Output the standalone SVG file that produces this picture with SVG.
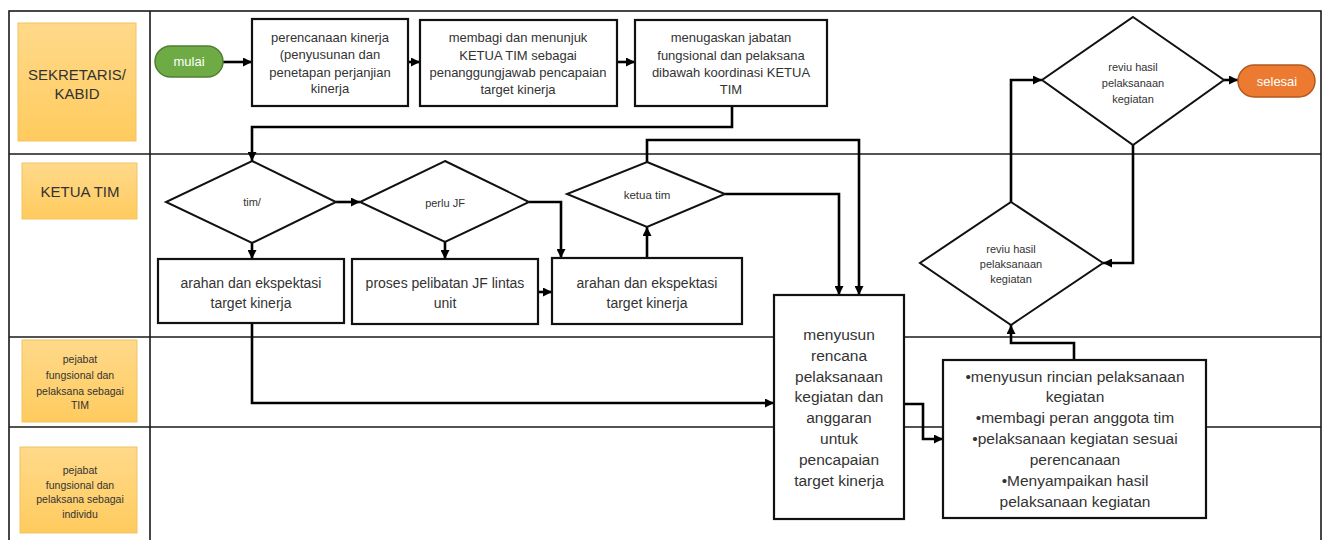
<svg xmlns="http://www.w3.org/2000/svg" width="1324" height="540" viewBox="0 0 1324 540">
<defs>
<linearGradient id="lane" x1="0" y1="0" x2="0" y2="1">
<stop offset="0" stop-color="#FFD98A"/>
<stop offset="1" stop-color="#FFCB5E"/>
</linearGradient>
<marker id="ah" viewBox="0 0 10 10" refX="10" refY="5" markerWidth="9" markerHeight="9" markerUnits="userSpaceOnUse" orient="auto">
<path d="M0,0 L10,5 L0,10 z" fill="#000"/>
</marker>
<style>
.frame{fill:none;stroke:#1a1a1a;stroke-width:1.6}
.lbl{fill:url(#lane);stroke:#F2C363;stroke-width:1}
.box{fill:#fff;stroke:#111;stroke-width:2.2}
.dia{fill:#fff;stroke:#111;stroke-width:2}
.con{fill:none;stroke:#000;stroke-width:2.6}
.ca{fill:none;stroke:#000;stroke-width:2.6;marker-end:url(#ah)}
text{font-family:"Liberation Sans","Open Sans",Arial,sans-serif;fill:#333;text-anchor:middle}
.t12{font-size:13px}
.t13{font-size:14px}
.t14{font-size:15.5px}
.t10{font-size:11px}
.t11{font-size:11.5px}
.lt{font-size:15px}
.ls{font-size:10.5px}
.wt{fill:#fff;font-size:13px}
</style>
</defs>

<g id="lanes">
<rect class="frame" x="9" y="11" width="1312" height="535"/>
<line class="frame" x1="150" y1="11" x2="150" y2="540"/>
<line class="frame" x1="9" y1="154" x2="1321" y2="154"/>
<line class="frame" x1="9" y1="337" x2="1321" y2="337"/>
<line class="frame" x1="9" y1="427" x2="1321" y2="427"/>
</g>

<g id="lane-sekretaris">
<rect class="lbl" x="18" y="23" width="118" height="118"/>
<text class="lt" x="77" y="80">SEKRETARIS/</text>
<text class="lt" x="77" y="99">KABID</text>
</g>
<g id="lane-ketua">
<rect class="lbl" x="22" y="163" width="115" height="56"/>
<text class="lt" x="80" y="197">KETUA TIM</text>
</g>
<g id="lane-tim">
<rect class="lbl" x="22" y="340" width="115" height="82"/>
<text class="ls" x="80" y="363">pejabat</text>
<text class="ls" x="80" y="379">fungsional dan</text>
<text class="ls" x="80" y="395">pelaksana sebagai</text>
<text class="ls" x="80" y="409">TIM</text>
</g>
<g id="lane-individu">
<rect class="lbl" x="20" y="447" width="117" height="86"/>
<text class="ls" x="80" y="474">pejabat</text>
<text class="ls" x="80" y="489">fungsional dan</text>
<text class="ls" x="80" y="503">pelaksana sebagai</text>
<text class="ls" x="80" y="518">individu</text>
</g>

<g id="connectors">
<line class="ca" x1="223" y1="62" x2="252" y2="62"/>
<line class="ca" x1="408" y1="62" x2="420" y2="62"/>
<line class="ca" x1="617" y1="62" x2="635" y2="62"/>
<polyline class="ca" points="732,106 732,127 252,127 252,161"/>
<line class="ca" x1="336" y1="202" x2="360" y2="202"/>
<line class="ca" x1="252" y1="243" x2="252" y2="259"/>
<line class="ca" x1="445" y1="242" x2="445" y2="259"/>
<polyline class="ca" points="529,202 561,202 561,258"/>
<line class="ca" x1="538" y1="292" x2="552" y2="292"/>
<line class="ca" x1="647" y1="258" x2="647" y2="227"/>
<polyline class="ca" points="725,194 839,194 839,295"/>
<polyline class="ca" points="647,162 647,140 859,140 859,295"/>
<polyline class="ca" points="252,323 252,403 774,403"/>
<polyline class="ca" points="904,404 923,404 923,439 943,439"/>
<polyline class="ca" points="1074,360 1074,343 1011,343 1011,325"/>
<polyline class="ca" points="1011,202 1011,80 1042,80"/>
<polyline class="ca" points="1133,145 1133,263 1103,263"/>
<line class="ca" x1="1224" y1="80" x2="1238" y2="80"/>
</g>

<g id="mulai">
<rect x="155" y="46" width="68" height="31" rx="15.5" fill="#6EAB45" stroke="#4F7F30" stroke-width="1.5"/>
<text class="wt" x="189" y="66">mulai</text>
</g>
<g id="perencanaan">
<rect class="box" x="252" y="19" width="156" height="87"/>
<text class="t12" x="330" y="42">perencanaan kinerja</text>
<text class="t12" x="330" y="59">(penyusunan dan</text>
<text class="t12" x="330" y="77">penetapan perjanjian</text>
<text class="t12" x="330" y="93">kinerja</text>
</g>
<g id="membagi">
<rect class="box" x="420" y="20" width="197" height="86"/>
<text class="t12" x="518" y="42">membagi dan menunjuk</text>
<text class="t12" x="518" y="60">KETUA TIM sebagai</text>
<text class="t12" x="518" y="77">penanggungjawab pencapaian</text>
<text class="t12" x="518" y="94">target kinerja</text>
</g>
<g id="menugaskan">
<rect class="box" x="635" y="20" width="192" height="86"/>
<text class="t12" x="731" y="42">menugaskan jabatan</text>
<text class="t12" x="731" y="60">fungsional dan pelaksana</text>
<text class="t12" x="731" y="77">dibawah koordinasi KETUA</text>
<text class="t12" x="731" y="94">TIM</text>
</g>
<g id="reviu-atas">
<polygon class="dia" points="1133,17 1224,80 1133,145 1042,80"/>
<text class="t10" x="1133" y="71">reviu hasil</text>
<text class="t10" x="1133" y="87">pelaksanaan</text>
<text class="t10" x="1133" y="103">kegiatan</text>
</g>
<g id="selesai">
<rect x="1238" y="65" width="77" height="32" rx="16" fill="#EC7A30" stroke="#B05A1E" stroke-width="1.5"/>
<text class="wt" x="1277" y="86">selesai</text>
</g>

<g id="tim">
<polygon class="dia" points="252,161 336,202 252,243 166,202"/>
<text class="t10" x="252" y="206">tim/</text>
</g>
<g id="perlu-jf">
<polygon class="dia" points="445,161 529,202 445,242 360,202"/>
<text class="t10" x="445" y="207">perlu JF</text>
</g>
<g id="ketua-tim">
<polygon class="dia" points="647,162 725,194 647,227 567,194"/>
<text class="t11" x="647" y="199">ketua tim</text>
</g>
<g id="arahan-1">
<rect class="box" x="158" y="259" width="186" height="64"/>
<text class="t13" x="251" y="288">arahan dan ekspektasi</text>
<text class="t13" x="251" y="308">target kinerja</text>
</g>
<g id="proses">
<rect class="box" x="352" y="259" width="186" height="65"/>
<text class="t13" x="445" y="288">proses pelibatan JF lintas</text>
<text class="t13" x="445" y="308">unit</text>
</g>
<g id="arahan-2">
<rect class="box" x="552" y="258" width="190" height="66"/>
<text class="t13" x="647" y="288">arahan dan ekspektasi</text>
<text class="t13" x="647" y="308">target kinerja</text>
</g>
<g id="reviu-bawah">
<polygon class="dia" points="1011,202 1103,263 1011,325 920,263"/>
<text class="t10" x="1011" y="253">reviu hasil</text>
<text class="t10" x="1011" y="268">pelaksanaan</text>
<text class="t10" x="1011" y="283">kegiatan</text>
</g>

<g id="menyusun-rencana">
<rect class="box" x="774" y="295" width="130" height="224"/>
<text class="t14" x="839" y="340">menyusun</text>
<text class="t14" x="839" y="361">rencana</text>
<text class="t14" x="839" y="382">pelaksanaan</text>
<text class="t14" x="839" y="402">kegiatan dan</text>
<text class="t14" x="839" y="423">anggaran</text>
<text class="t14" x="839" y="444">untuk</text>
<text class="t14" x="839" y="465">pencapaian</text>
<text class="t14" x="839" y="486">target kinerja</text>
</g>
<g id="rincian">
<rect class="box" x="943" y="360" width="263" height="158"/>
<text class="t14" x="1075" y="382">•menyusun rincian pelaksanaan</text>
<text class="t14" x="1075" y="402">kegiatan</text>
<text class="t14" x="1075" y="423">•membagi peran anggota tim</text>
<text class="t14" x="1075" y="444">•pelaksanaan kegiatan sesuai</text>
<text class="t14" x="1075" y="465">perencanaan</text>
<text class="t14" x="1075" y="486">•Menyampaikan hasil</text>
<text class="t14" x="1075" y="507">pelaksanaan kegiatan</text>
</g>
</svg>
